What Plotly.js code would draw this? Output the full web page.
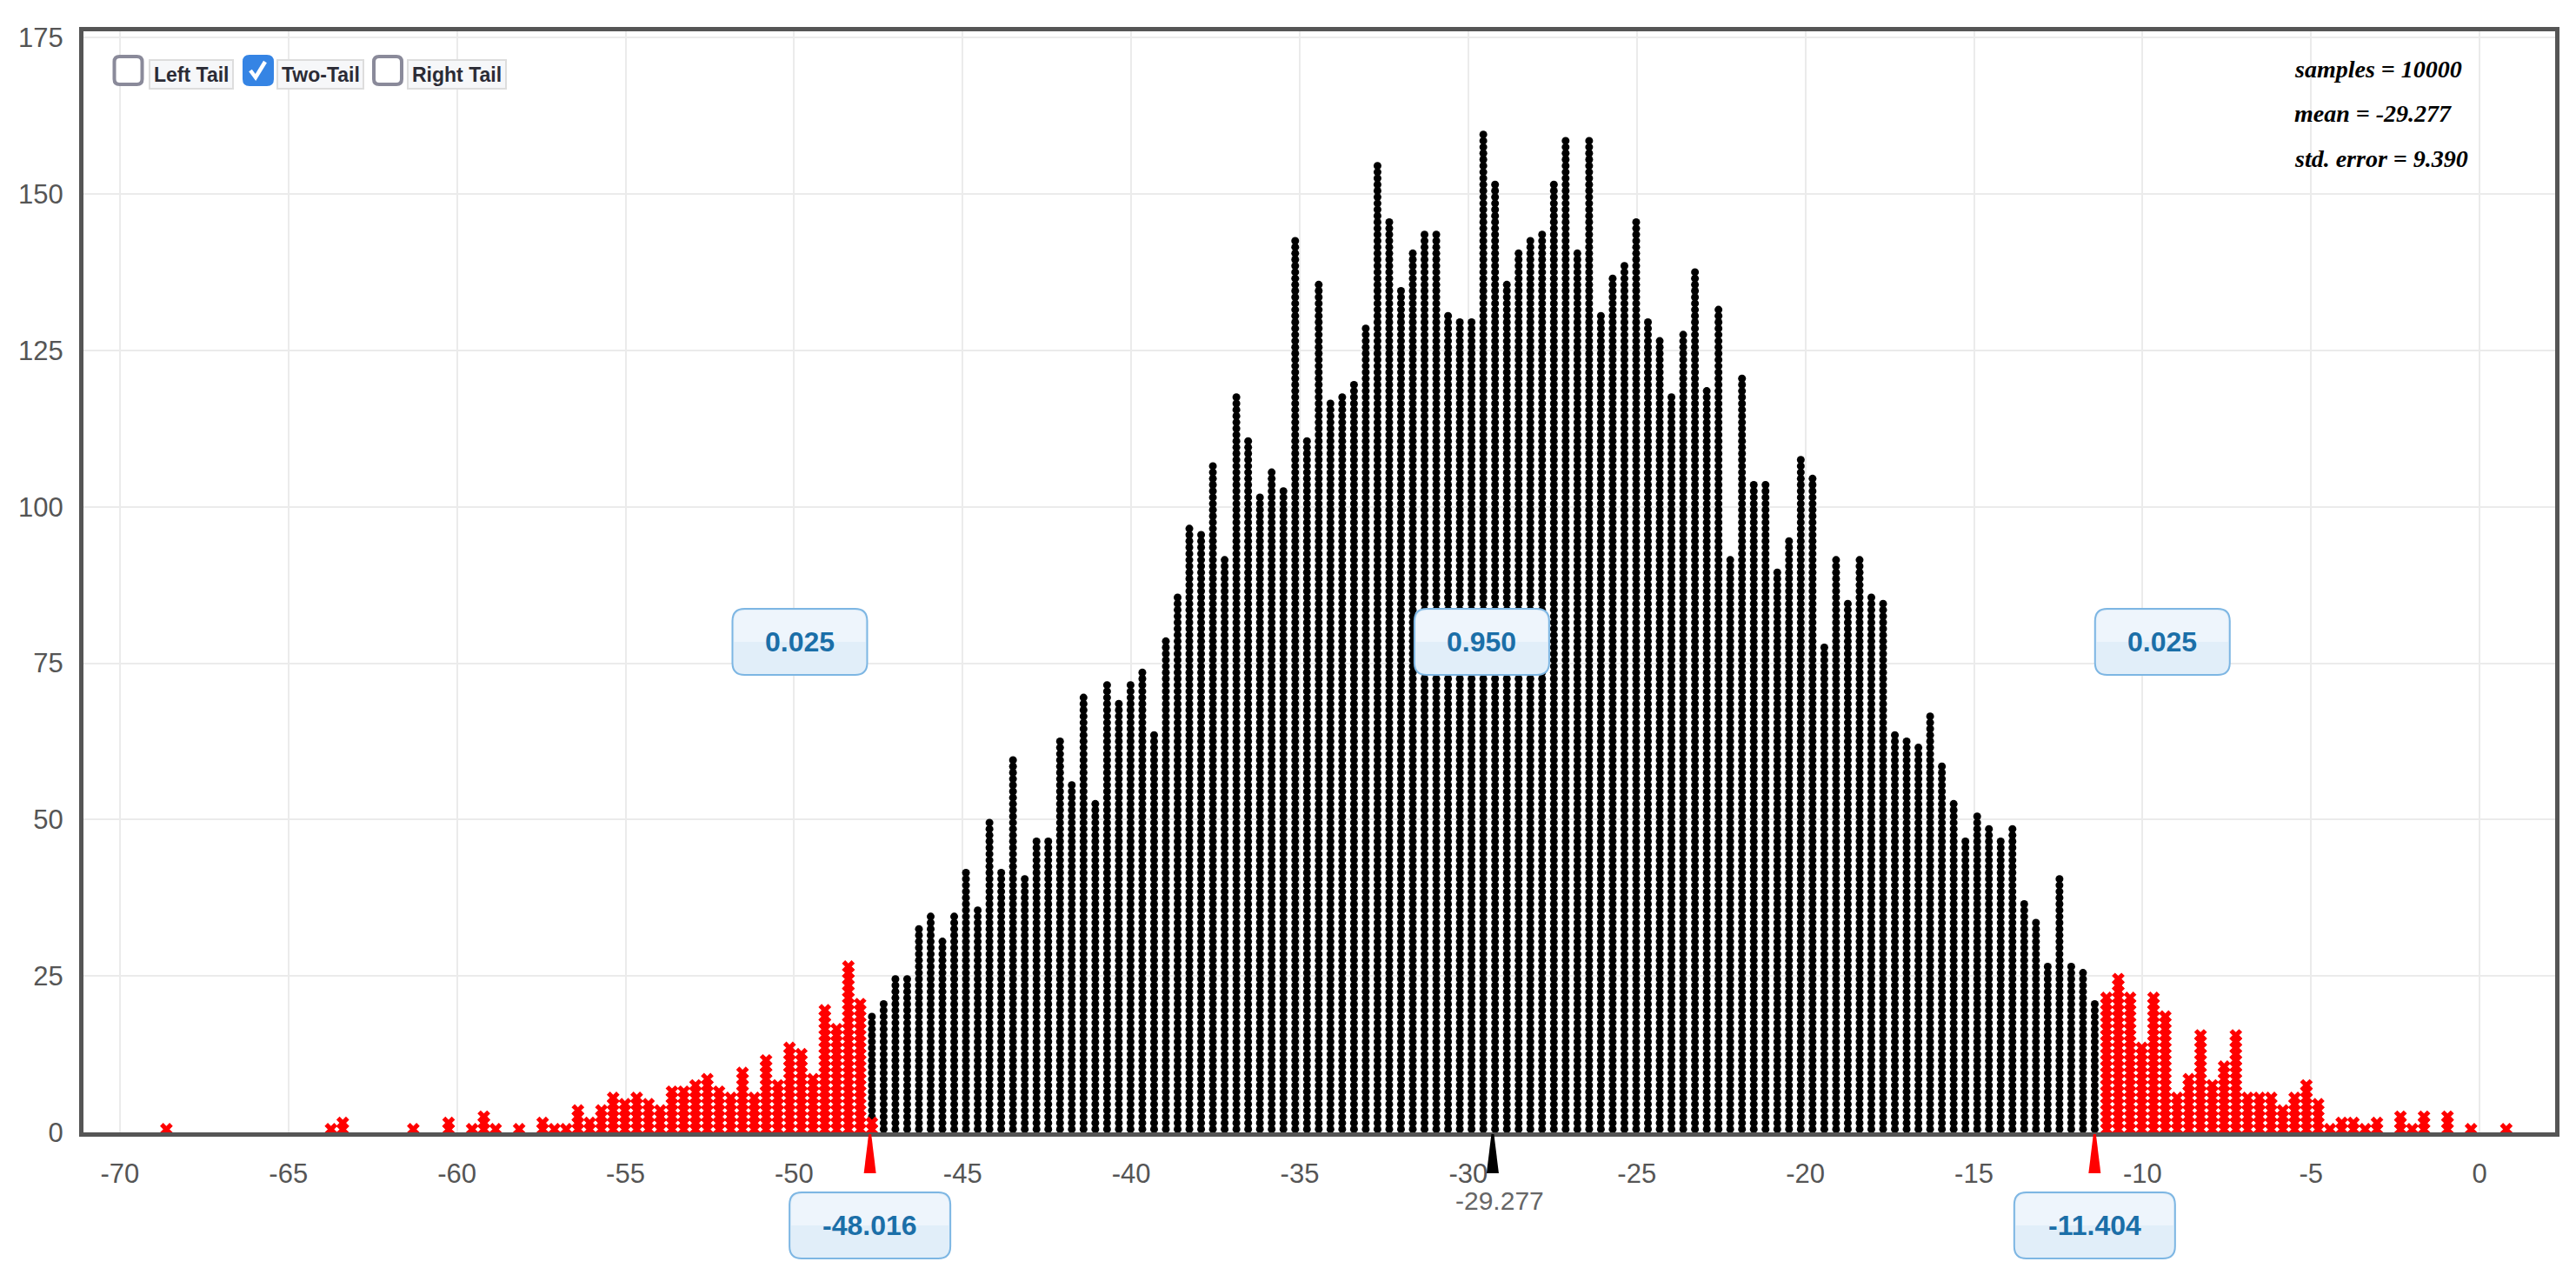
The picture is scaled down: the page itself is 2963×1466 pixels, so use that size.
<!DOCTYPE html>
<html>
<head>
<meta charset="utf-8">
<script src="https://cdn.plot.ly/plotly-3.0.1.min.js"></script>
<style>
html, body { margin: 0; padding: 0; background: #fff; }
#chart1 { width: 2963px; height: 1466px; }
</style>
</head>
<body>
<div id="chart1"></div>
<script>

// dot histogram bins (centre of the first bin and bin width)
var binStart = -68.62
var binWidth = 0.3488

// counts per bin
var leftTail = [1, 0,0,0,0,0,0,0,0,0,0,0,0,0, 1, 2, 0,0,0,0,0, 1, 0,0, 2, 0, 1, 3, 1, 0, 1, 0, 2, 1, 1,
    4, 2, 4, 6, 5, 6, 5, 4, 7, 7, 8, 9, 7, 6, 10, 6, 12, 8, 14, 13, 9, 20, 17, 27, 21]
var body = [17, 21, 25, 25, 33, 35, 31, 35, 42, 36, 50, 42, 60, 41, 47, 47, 63, 56, 70, 53, 72, 69, 72, 74, 64, 79, 86,
    97, 96, 107, 92, 118, 111, 102, 106, 103, 143, 111, 136, 117, 118, 120, 129, 155, 146, 135, 141, 144, 144, 131, 130, 130, 160,
    152, 136, 141, 143, 144, 152, 159, 141, 159, 131, 137, 139, 146, 130, 127, 118, 128, 138, 119, 132, 92, 121, 104, 104, 90, 95, 108,
    105, 78, 92, 85, 92, 86, 85, 64, 63, 62, 67, 59, 53, 47, 51, 49, 47, 49, 37, 34, 27, 41, 27, 26, 21]
var rightTail = [22, 25, 22, 14, 22, 19, 6, 9, 16, 8, 11, 16, 6, 6, 6, 4, 6, 8, 5, 1, 2,
    2, 1, 2, 0, 3, 1, 3, 0, 3, 0, 1, 0, 0, 1]
var edgeRed = 2   // red points under the first black column

var xTickVals = [-70, -65, -60, -55, -50, -45, -40, -35, -30, -25, -20, -15, -10, -5, 0]
var xTickText = ['-70', '-65', '-60', '-55', '-50', '-45', '-40', '-35', '-30', '-25', '-20', '-15', '-10', '-5', '0']

var cutLabels = ['-48.016', '-11.404']
var cutPos = [-47.75, -11.42]
var meanVal = -29.277
var meanLabel = '-29.277'
var areaLabels = ['0.025', '0.950', '0.025']
var areaPos = [-49.83, -29.6, -9.41]
var areaY = 78.4
var statLines = ['samples = 10000', 'mean = -29.277', 'std. error = 9.390']
var statY = [169.9, 162.8, 155.7]
var tailOptions = ['Left Tail', 'Two-Tail', 'Right Tail']
var tailChecked = [false, true, false]


var blackX = [], blackY = [], redX = [], redY = []

function addColumn(xs, ys, x, from, n){
    for (let i = 0; i < n; i++){
        xs.push(x)
        ys.push(from + i + 0.5)
    }
}

var k = 0
leftTail.forEach(function(n){
    addColumn(redX, redY, binStart + k*binWidth, 0, n)
    k++
})
body.forEach(function(n, i){
    let x = binStart + k*binWidth
    let base = 0
    if (i == 0){
        addColumn(redX, redY, x, 0, edgeRed)
        base = edgeRed
    }
    addColumn(blackX, blackY, x, base, n)
    k++
})
rightTail.forEach(function(n){
    addColumn(redX, redY, binStart + k*binWidth, 0, n)
    k++
})

// rounded rectangle in pixels around (cx, cy), y going up
function roundRect(w, h, r, cx, cy){
    let x0 = cx - w/2, x1 = cx + w/2, y0 = cy - h/2, y1 = cy + h/2
    return 'M' + (x0 + r) + ',' + y0 + ' L' + (x1 - r) + ',' + y0 + ' Q' + x1 + ',' + y0 + ' ' + x1 + ',' + (y0 + r) +
        ' L' + x1 + ',' + (y1 - r) + ' Q' + x1 + ',' + y1 + ' ' + (x1 - r) + ',' + y1 +
        ' L' + (x0 + r) + ',' + y1 + ' Q' + x0 + ',' + y1 + ' ' + x0 + ',' + (y1 - r) +
        ' L' + x0 + ',' + (y0 + r) + ' Q' + x0 + ',' + y0 + ' ' + (x0 + r) + ',' + y0 + ' Z'
}
// top half only, for the lighter part of the boxes
function roundTop(w, h, r, cx, cy){
    let x0 = cx - w/2, x1 = cx + w/2, y0 = cy, y1 = cy + h/2
    return 'M' + x0 + ',' + y0 + ' L' + x1 + ',' + y0 +
        ' L' + x1 + ',' + (y1 - r) + ' Q' + x1 + ',' + y1 + ' ' + (x1 - r) + ',' + y1 +
        ' L' + (x0 + r) + ',' + y1 + ' Q' + x0 + ',' + y1 + ' ' + x0 + ',' + (y1 - r) + ' Z'
}

var shapes = []
var annotations = []
var boxText = {family: 'Liberation Sans, Arial, sans-serif', size: 32, color: '#1b6fa8'}

function addBox(xref, yref, xa, ya, w, h, cy){
    shapes.push({type: 'path', layer: 'above', xref: xref, yref: yref, xsizemode: 'pixel', ysizemode: 'pixel',
        xanchor: xa, yanchor: ya, path: roundRect(w, h, 14, 0, cy), fillcolor: '#e1eef9', line: {color: '#7db6e3', width: 2}})
    shapes.push({type: 'path', layer: 'above', xref: xref, yref: yref, xsizemode: 'pixel', ysizemode: 'pixel',
        xanchor: xa, yanchor: ya, path: roundTop(w - 4, h - 4, 12, 0, cy), fillcolor: '#eef5fc', line: {width: 0}})
}

// probability boxes inside the plot
for (let i = 0; i < areaLabels.length; i++){
    addBox('x', 'y', areaPos[i], areaY, 155, 76, 0)
    annotations.push({xref: 'x', yref: 'y', x: areaPos[i], y: areaY, text: '<b>' + areaLabels[i] + '</b>',
        showarrow: false, font: boxText, xanchor: 'center', yanchor: 'middle'})
}

// cut markers and their value boxes under the axis
for (let i = 0; i < cutLabels.length; i++){
    shapes.push({type: 'path', layer: 'above', xref: 'x', yref: 'paper', xsizemode: 'pixel', ysizemode: 'pixel',
        xanchor: cutPos[i], yanchor: 0, path: 'M -7,-47 L 7,-47 L 1.5,-2 L -1.5,-2 Z', fillcolor: '#ff0000', line: {width: 0}})
    addBox('x', 'paper', cutPos[i], 0, 185, 76, -107)
    annotations.push({xref: 'x', yref: 'paper', x: cutPos[i], y: 0, yshift: -107, text: '<b>' + cutLabels[i] + '</b>',
        showarrow: false, font: boxText, xanchor: 'center', yanchor: 'middle'})
}

// mean marker
shapes.push({type: 'path', layer: 'above', xref: 'x', yref: 'paper', xsizemode: 'pixel', ysizemode: 'pixel',
    xanchor: meanVal, yanchor: 0, path: 'M -7,-47 L 7,-47 L 1.5,-2 L -1.5,-2 Z', fillcolor: '#000', line: {width: 0}})
annotations.push({xref: 'x', yref: 'paper', x: meanVal, y: 0, xshift: 8, yshift: -78, text: meanLabel,
    showarrow: false, font: {family: 'Liberation Sans, Arial, sans-serif', size: 30, color: '#666'}, yanchor: 'middle'})

// stats text
for (let i = 0; i < statLines.length; i++){
    annotations.push({xref: 'x', yref: 'y', x: -5.56, y: statY[i], text: '<b><i>' + statLines[i] + '</i></b>',
        showarrow: false, xanchor: 'left', yanchor: 'middle',
        font: {family: 'Liberation Serif, Times New Roman, serif', size: 28, color: '#000'}})
}

// tail checkboxes
var boxCx = [51.5, 201, 350]
var labelCx = [124, 272.5, 429.5]
var labelW = [96, 99, 113]
for (let i = 0; i < tailOptions.length; i++){
    shapes.push({type: 'path', layer: 'above', xref: 'paper', yref: 'paper', xsizemode: 'pixel', ysizemode: 'pixel',
        xanchor: 0, yanchor: 1, path: roundRect(32, 32, 6, boxCx[i], -45),
        fillcolor: tailChecked[i] ? '#3584e4' : '#fff', line: {color: tailChecked[i] ? '#3584e4' : '#8a8a9a', width: 4}})
    if (tailChecked[i]){
        let c = boxCx[i]
        shapes.push({type: 'path', layer: 'above', xref: 'paper', yref: 'paper', xsizemode: 'pixel', ysizemode: 'pixel',
            xanchor: 0, yanchor: 1, path: 'M ' + (c - 9) + ',-45 L ' + (c - 3) + ',-53 L ' + (c + 8) + ',-35',
            line: {color: '#fff', width: 4.5}})
    }
    shapes.push({type: 'rect', layer: 'above', xref: 'paper', yref: 'paper', xsizemode: 'pixel', ysizemode: 'pixel',
        xanchor: 0, yanchor: 1, x0: labelCx[i] - labelW[i]/2, x1: labelCx[i] + labelW[i]/2, y0: -33, y1: -66,
        fillcolor: '#f6f7f9', line: {color: '#dddddd', width: 2}})
    annotations.push({xref: 'paper', yref: 'paper', x: 0, y: 1, xshift: labelCx[i], yshift: -50,
        text: '<b>' + tailOptions[i] + '</b>', showarrow: false, xanchor: 'center', yanchor: 'middle',
        font: {family: 'Liberation Sans, Arial, sans-serif', size: 23, color: '#2b2b35'}})
}

window.onload = function(){

    Plotly.newPlot('chart1', [{
        x: blackX,
        y: blackY,
        type: 'scatter',
        mode: 'markers',
        marker: {symbol: 'circle', size: 9, color: '#000'},
        hoverinfo: 'skip'
    }, {
        x: redX,
        y: redY,
        type: 'scatter',
        mode: 'markers',
        marker: {symbol: 'x', size: 13, color: '#ff0000'},
        hoverinfo: 'skip'
    }], {
        width: 2963,
        height: 1466,
        showlegend: false,
        hovermode: false,
        paper_bgcolor: '#fff',
        plot_bgcolor: '#fff',
        margin: {l: 96, r: 24, t: 36, b: 164},
        xaxis: {
            range: [-71.08, 2.24],
            tickmode: 'array',
            tickvals: xTickVals,
            ticktext: xTickText,
            showgrid: true,
            gridcolor: '#ebebeb',
            gridwidth: 2,
            zeroline: false,
            showline: true,
            mirror: true,
            linecolor: '#555',
            linewidth: 5,
            ticks: '',
            ticklabelstandoff: 16,
            tickfont: {family: 'Liberation Sans, Arial, sans-serif', size: 31, color: '#555'}
        },
        yaxis: {
            range: [0, 176],
            tickmode: 'linear',
            tick0: 0,
            dtick: 25,
            showgrid: true,
            gridcolor: '#ebebeb',
            gridwidth: 2,
            zeroline: false,
            showline: true,
            mirror: true,
            linecolor: '#555',
            linewidth: 5,
            ticks: '',
            ticklabelstandoff: 12,
            tickfont: {family: 'Liberation Sans, Arial, sans-serif', size: 31, color: '#555'}
        },
        shapes: shapes,
        annotations: annotations
    }, {staticPlot: true})
}
</script>
</body>
</html>
